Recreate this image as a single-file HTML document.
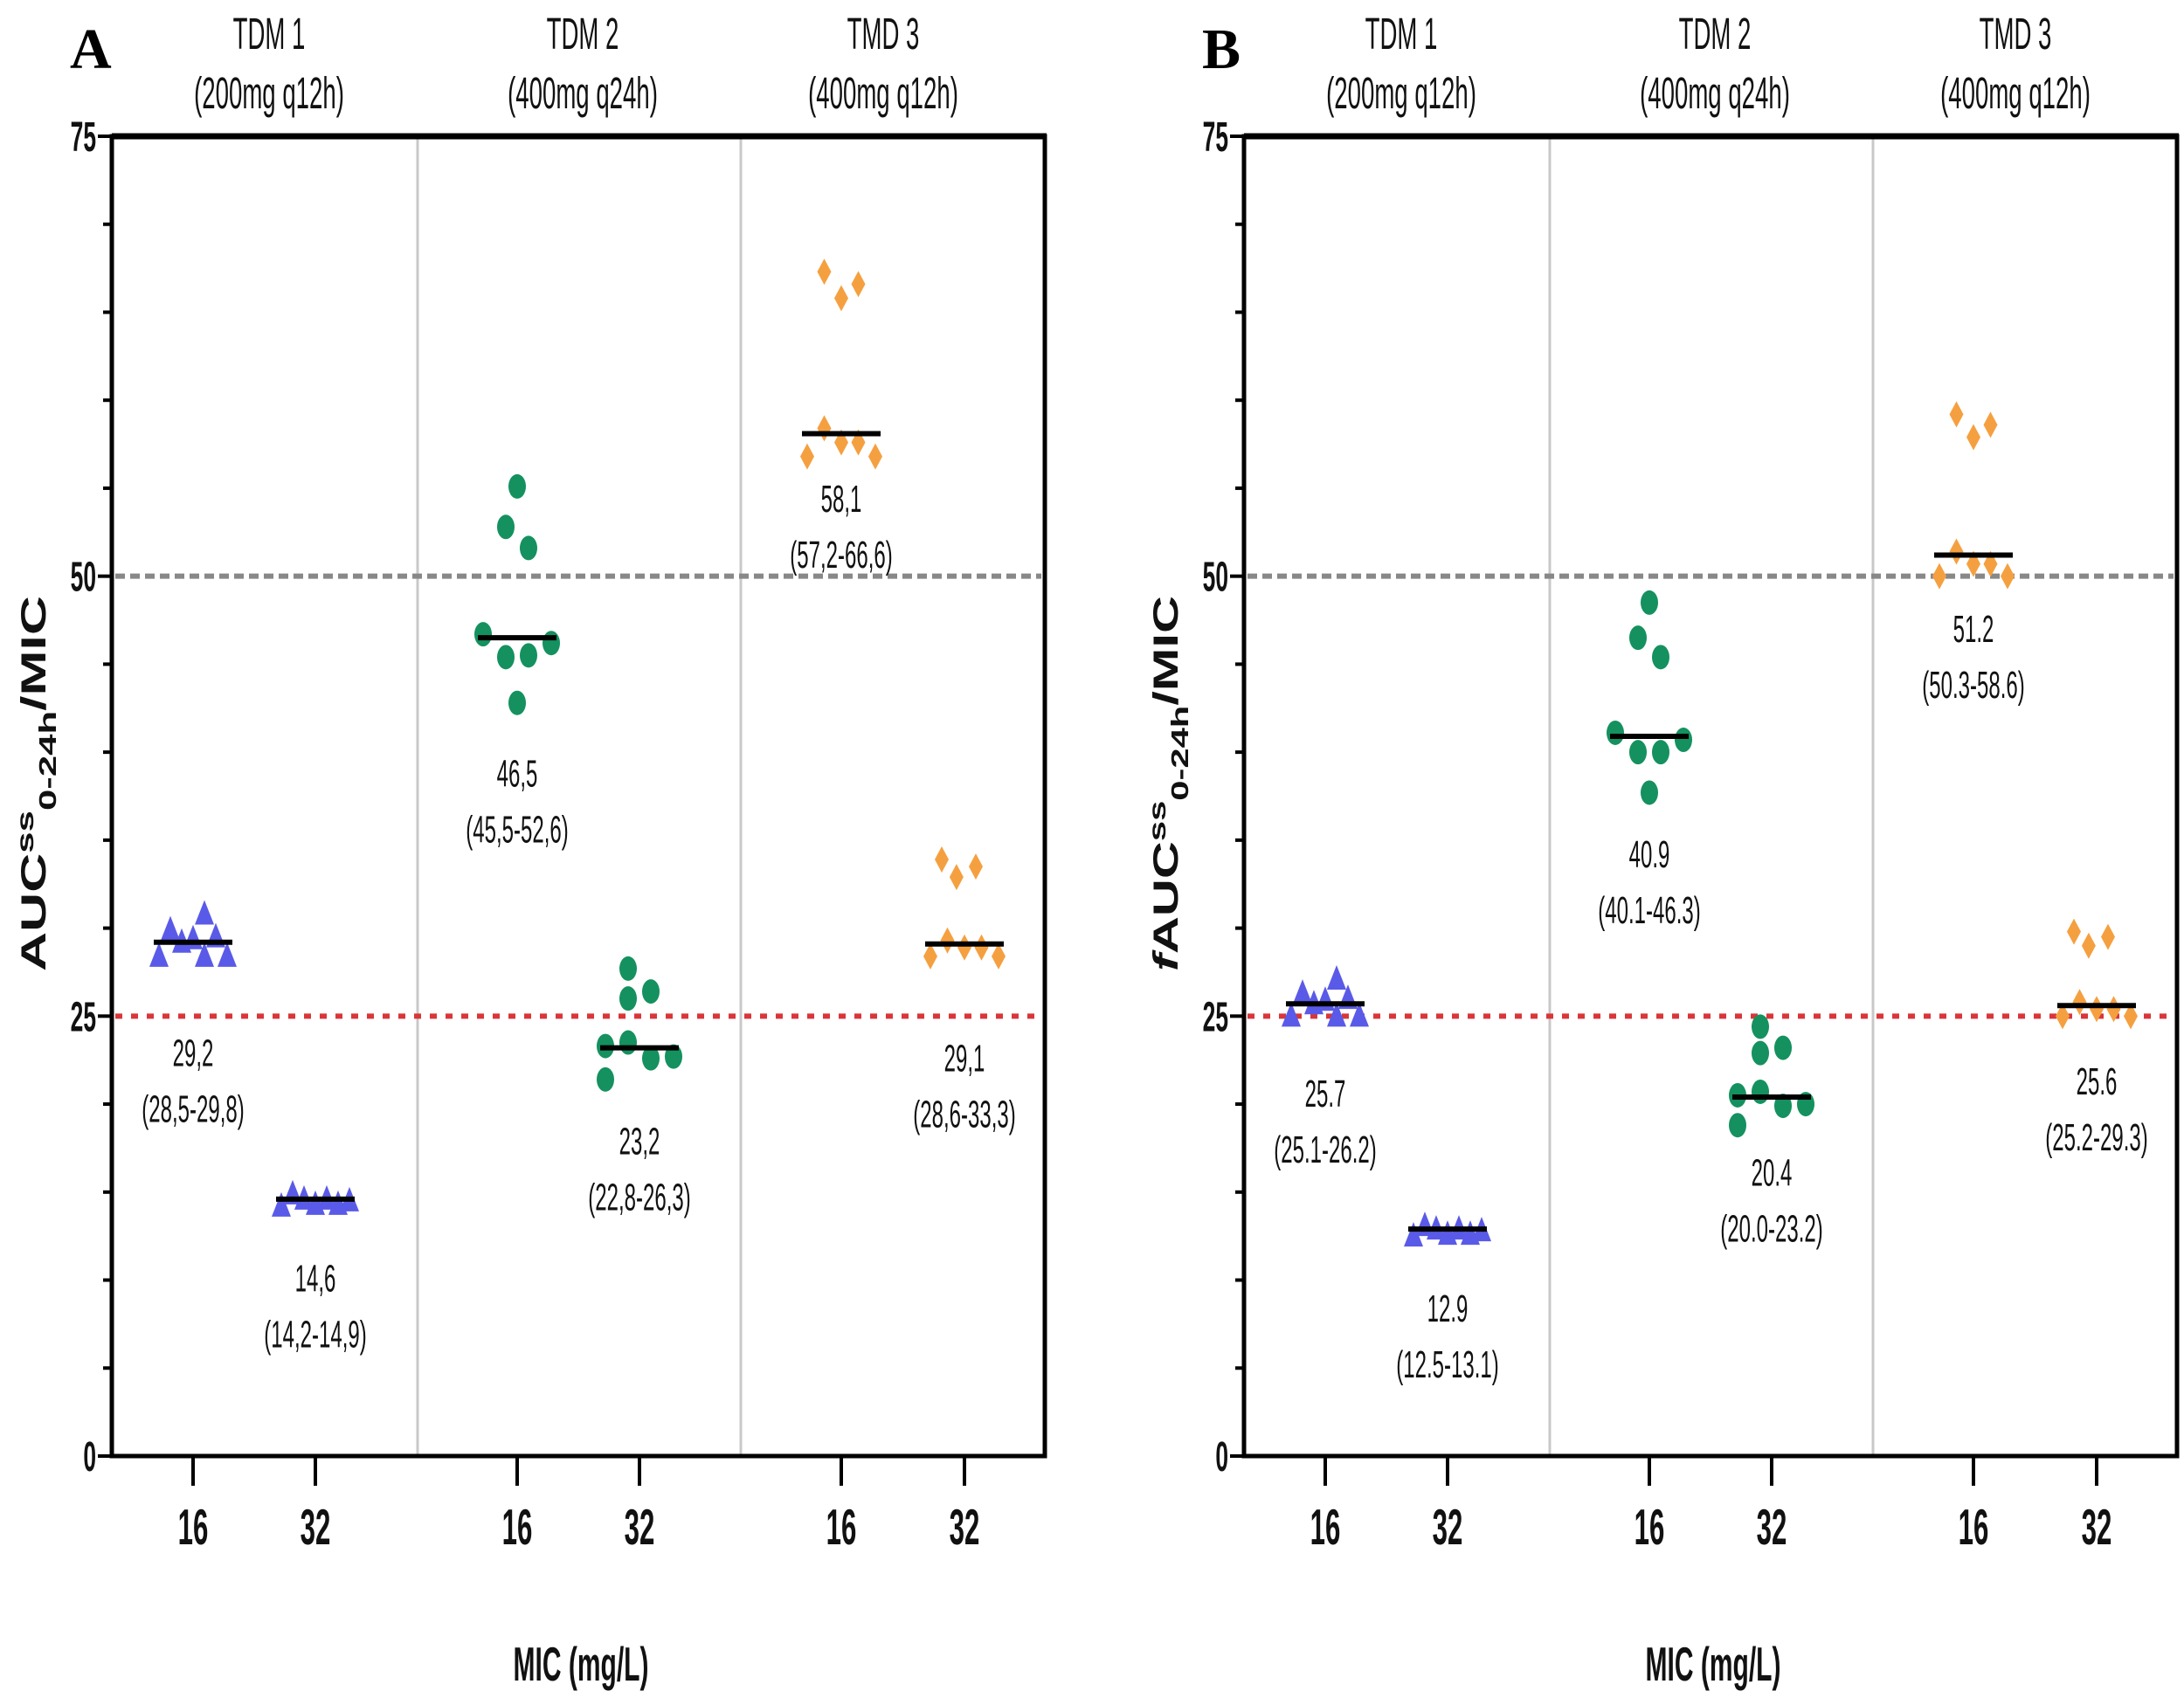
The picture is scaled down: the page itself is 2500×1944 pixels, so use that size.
<!DOCTYPE html>
<html><head><meta charset="utf-8"><style>
html,body{margin:0;padding:0;background:#fff;}
svg{display:block;}
</style></head>
<body>
<svg id="fig" width="2500" height="1944" viewBox="0 0 2500 1944" xmlns="http://www.w3.org/2000/svg" font-family="Liberation Sans, sans-serif"></svg>
<script>
// ---- data ----
const groupNames = ["TDM 1", "TDM 2", "TMD 3"];
const groupDoses = ["(200mg q12h)", "(400mg q24h)", "(400mg q12h)"];
const micTicks = ["16", "32"];
const yTicks = [0, 25, 50, 75];
const targetLines = [50, 25];
// panel A (AUC/MIC): per group [slot, value]
const aTdm1_16 = [[-3,28.4],[-2,29.9],[-1,29.2],[0,29.4],[1,30.8],[1,28.4],[2,29.5],[3,28.4]];
const aTdm1_32 = [[-3,14.2],[-2,14.9],[-1,14.6],[0,14.3],[1,14.6],[2,14.3],[3,14.5]];
const aTdm2_16 = [[0,55.1],[-1,52.8],[1,51.6],[-3,46.7],[-1,45.4],[1,45.5],[3,46.2],[0,42.8]];
const aTdm2_32 = [[-1,27.7],[1,26.4],[-1,26.0],[-3,23.3],[-1,23.5],[1,22.6],[3,22.7],[-3,21.4]];
const aTmd3_16 = [[-1.5,67.3],[0,65.8],[1.5,66.6],[-1.5,58.4],[0,57.6],[1.5,57.6],[-3,56.8],[3,56.8]];
const aTmd3_32 = [[-2,33.9],[-0.7,32.9],[1,33.5],[-1.5,29.3],[0,28.9],[1.5,28.9],[-3,28.4],[3,28.4]];
const aMedians = [29.2, 14.6, 46.5, 23.2, 58.1, 29.1];
const aMedianText = ["29,2","14,6","46,5","23,2","58,1","29,1"];
const aRangeText = ["(28,5-29,8)","(14,2-14,9)","(45,5-52,6)","(22,8-26,3)","(57,2-66,6)","(28,6-33,3)"];
const aLabelAt = [22.9, 10.1, 38.8, 17.9, 54.4, 22.6];
// panel B (fAUC/MIC)
const bTdm1_16 = [[-3,25.0],[-2,26.3],[-1,25.7],[0,25.9],[1,27.1],[1,25.0],[2,26.0],[3,25.0]];
const bTdm1_32 = [[-3,12.5],[-2,13.1],[-1,12.9],[0,12.6],[1,12.9],[2,12.6],[3,12.8]];
const bTdm2_16 = [[0,48.5],[-1,46.5],[1,45.4],[-3,41.1],[-1,40.0],[1,40.0],[3,40.7],[0,37.7]];
const bTdm2_32 = [[-1,24.4],[1,23.2],[-1,22.9],[-3,20.5],[-1,20.7],[1,19.9],[3,20.0],[-3,18.8]];
const bTmd3_16 = [[-1.5,59.2],[0,57.9],[1.5,58.6],[-1.5,51.4],[0,50.7],[1.5,50.7],[-3,50.0],[3,50.0]];
const bTmd3_32 = [[-2,29.8],[-0.7,29.0],[1,29.5],[-1.5,25.8],[0,25.4],[1.5,25.4],[-3,25.0],[3,25.0]];
const bMedians = [25.7, 12.9, 40.9, 20.4, 51.2, 25.6];
const bMedianText = ["25.7","12.9","40.9","20.4","51.2","25.6"];
const bRangeText = ["(25.1-26.2)","(12.5-13.1)","(40.1-46.3)","(20.0-23.2)","(50.3-58.6)","(25.2-29.3)"];
const bLabelAt = [20.6, 8.4, 34.2, 16.1, 47.0, 21.3];

const NS = "http://www.w3.org/2000/svg";
const svg = document.getElementById("fig");
function mk(tag, attrs, parent, txt){
  const e = document.createElementNS(NS, tag);
  for (const k in attrs) e.setAttribute(k, attrs[k]);
  if (txt !== undefined) e.textContent = txt;
  (parent || svg).appendChild(e);
  return e;
}
const Y0 = 1667, Y75 = 156;
function yS(v){ return Y0 - (v/75)*(Y0 - Y75); }
const tickOff = [221, 361, 592, 732, 963, 1104];
const colors = ["#5a5ae8","#5a5ae8","#14915f","#14915f","#f5a040","#f5a040"];
const shapes = ["tri","tri","circ","circ","dia","dia"];
const SLOT = 13;

function condText(parent, x, y, s, size, weight, anchor, name){
  const g = mk("g", {transform:`translate(${x},${y}) scale(0.6,1.1)`}, parent);
  const t = mk("text", {x:0, y:0, "font-size":size, "font-weight":weight, "text-anchor":anchor||"middle", fill:"#111"}, g, s);
  
  
  return t;
}

function panel(dx, letter, sets, medians, medText, rangeText, labelAt, fPrefix){
  const g = mk("g", {});
  
  
  const L = 128 + dx, R = 1196 + dx;
  const X = v => v + dx;
  const lt = mk("text", {x:80+dx, y:78, "font-size":66, "font-weight":"bold", "font-family":"Liberation Serif, serif", fill:"#000"}, g, letter);
  
  
  const hc = [308, 667, 1011];
  groupNames.forEach((n,i)=>{
    condText(g, X(hc[i]), 56, n, 46, "normal", "middle", "group-header");
    condText(g, X(hc[i]), 124, groupDoses[i], 46, "normal", "middle", "group-dose");
  });
  [478, 848].forEach(x=>{
    const d = mk("line", {x1:X(x), x2:X(x), y1:Y75, y2:Y0, stroke:"#c8c8c8", "stroke-width":3}, g);
    
    
  });
  targetLines.forEach((v,i)=>{
    const ln = mk("line", {x1:L+4, x2:R-4, y1:yS(v), y2:yS(v), stroke: i===0?"#888":"#d9363a", "stroke-width":6,
      "stroke-dasharray": i===0?"11 6":"8 10"}, g);
    
    
  });
  const fr = mk("path", {d:`M${L},${Y75} H${R} V${Y0} H${L} Z`, fill:"none", stroke:"#000", "stroke-width":5}, g);
  
  
  const top = mk("line", {x1:L, x2:R+2, y1:Y75, y2:Y75, stroke:"#000", "stroke-width":7}, g);
  
  
  for (let v=0; v<=75; v+=5){
    const major = yTicks.includes(v);
    const tk = mk("line", {x1:L-(major?16:10), x2:L, y1:yS(v), y2:yS(v), stroke:"#000", "stroke-width":4}, g);
    
    
  }
  yTicks.forEach(v=>{
    condText(g, L-18, yS(v)+17, String(v), 44, "bold", "end", "y-tick-label");
  });
  tickOff.forEach((t,i)=>{
    const tk = mk("line", {x1:X(t), x2:X(t), y1:Y0, y2:Y0+34, stroke:"#000", "stroke-width":4}, g);
    
    
    condText(g, X(t), 1768, micTicks[i%2], 52, "bold", "middle", "x-tick-label");
  });
  condText(g, X(665), 1924, "MIC (mg/L)", 50, "bold", "middle", "x-axis-title");
  const yt = mk("text", {transform:`translate(${52+dx},${1112}) rotate(-90)`, "font-size":40, "font-weight":"bold", fill:"#111",
    textLength:430, lengthAdjust:"spacingAndGlyphs"}, g);
  
  
  if (fPrefix){ mk("tspan", {"font-style":"italic"}, yt, "f"); }
  mk("tspan", {}, yt, "AUC");
  mk("tspan", {dy:-14, "font-size":28}, yt, "ss");
  mk("tspan", {dy:26, "font-size":28}, yt, "0-24h");
  mk("tspan", {dy:-12}, yt, "/MIC");
  sets.forEach((pts, gi)=>{
    const cx = X(tickOff[gi]);
    const col = colors[gi];
    pts.forEach(p=>{
      const x = cx + p[0]*SLOT, y = yS(p[1]);
      let m;
      if (shapes[gi]==="tri") m = mk("path", {d:`M${x},${y-16} L${x+11},${y+12} L${x-11},${y+12} Z`, fill:col}, g);
      else if (shapes[gi]==="circ") m = mk("ellipse", {cx:x, cy:y, rx:10, ry:14, fill:col}, g);
      else m = mk("path", {d:`M${x},${y-15} L${x+8},${y} L${x},${y+15} L${x-8},${y} Z`, fill:col}, g);
      
      
    });
    const my = yS(medians[gi]);
    const ml = mk("line", {x1:cx-45, x2:cx+45, y1:my, y2:my, stroke:"#000", "stroke-width":6}, g);
    
    
    const ly = yS(labelAt[gi]);
    condText(g, cx, ly+15, medText[gi], 40, "normal", "middle", "median-label");
    condText(g, cx, ly+79, rangeText[gi], 40, "normal", "middle", "range-label");
  });
}
panel(0, "A", [aTdm1_16,aTdm1_32,aTdm2_16,aTdm2_32,aTmd3_16,aTmd3_32], aMedians, aMedianText, aRangeText, aLabelAt, false);
panel(1296, "B", [bTdm1_16,bTdm1_32,bTdm2_16,bTdm2_32,bTmd3_16,bTmd3_32], bMedians, bMedianText, bRangeText, bLabelAt, true);
</script>
</body></html>
